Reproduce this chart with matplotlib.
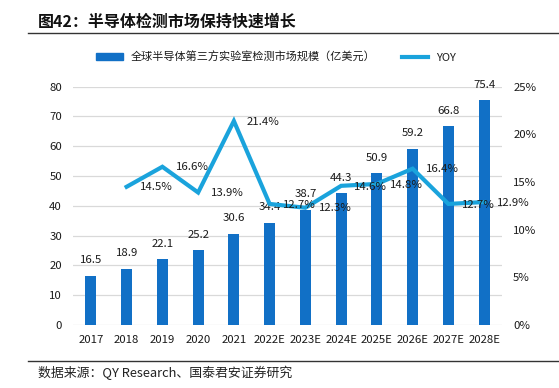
import matplotlib
matplotlib.use('Agg')
import matplotlib.pyplot as plt
import numpy as np
from matplotlib.lines import Line2D
from matplotlib.patches import Patch

plt.rcParams['font.family'] = ['Noto Sans CJK SC', 'DejaVu Sans']

years = ['2017', '2018', '2019', '2020', '2021', '2022E', '2023E', '2024E',
         '2025E', '2026E', '2027E', '2028E']
market = [16.5, 18.9, 22.1, 25.2, 30.6, 34.4, 38.7, 44.3, 50.9, 59.2, 66.8, 75.4]
yoy = [np.nan, 14.5, 16.6, 13.9, 21.4, 12.7, 12.3, 14.6, 14.8, 16.4, 12.7, 12.9]
left_ticks = [0, 10, 20, 30, 40, 50, 60, 70, 80]
right_ticks = [0, 5, 10, 15, 20, 25]

title = '图42：半导体检测市场保持快速增长'
bar_name = '全球半导体第三方实验室检测市场规模（亿美元）'
line_name = 'YOY'
source = '数据来源：QY Research、国泰君安证券研究'

bar_color = '#1170C6'
line_color = '#1AA3DC'
text_color = '#1a1a1a'

W, H = 559, 388
fig = plt.figure(figsize=(W / 100, H / 100), dpi=100)
ax = fig.add_axes([73 / W, 1 - 325 / H, 429 / W, (325 - 86.7) / H])
x = np.arange(len(years))
ax.bar(x, market, width=0.31, color=bar_color, zorder=2)
ax.set_xlim(-0.5, len(years) - 0.5)
ax.set_ylim(0, 80)
ax.set_yticks(left_ticks)
ax.set_xticks(x)
ax.set_xticklabels(years)
ax.grid(axis='y', color='#D9D9D9', lw=0.9, zorder=0)
ax.set_axisbelow(True)
for s in ax.spines.values():
    s.set_visible(False)
ax.tick_params(axis='both', length=0, labelsize=8.2, colors=text_color)
ax.tick_params(axis='y', pad=8)
ax.tick_params(axis='x', pad=7)

for xi, v in zip(x, market):
    ax.annotate(f'{v:.1f}', (xi, v), xytext=(0, 7.5), textcoords='offset points',
                ha='center', va='bottom', fontsize=8.2, color=text_color)

ax2 = ax.twinx()
ax2.plot(x, yoy, color=line_color, lw=3, zorder=3, solid_joinstyle='miter')
ax2.set_ylim(0, 25)
ax2.set_yticks(right_ticks)
ax2.set_yticklabels([f'{t}%' for t in right_ticks])
for s in ax2.spines.values():
    s.set_visible(False)
ax2.tick_params(axis='y', length=0, labelsize=8.2, colors=text_color, pad=8)

for xi, v in zip(x, yoy):
    if np.isnan(v):
        continue
    ax2.annotate(f'{v:.1f}%', (xi, v), xytext=(9.5, -0.5), textcoords='offset points',
                 ha='left', va='center', fontsize=8.2, color=text_color)

handles = [Patch(color=bar_color), Line2D([0], [0], color=line_color, lw=3)]
fig.legend(handles, [bar_name, line_name], loc='center', ncol=2,
           bbox_to_anchor=(276 / W, 1 - 57 / H), frameon=False, fontsize=8,
           handlelength=2.4, handleheight=0.5, handletextpad=0.7,
           columnspacing=2.4, labelcolor=text_color)

fig.text(38 / W, 1 - 22 / H, title, fontsize=11.5, fontweight='bold',
         va='center', ha='left', color='#111111')
fig.add_artist(Line2D([28 / W, 1], [1 - 33 / H] * 2, color='#333333', lw=1))
fig.add_artist(Line2D([28 / W, 1], [1 - 360.5 / H] * 2, color='#333333', lw=1))
fig.text(38 / W, 1 - 373 / H, source, fontsize=9.3, va='center', ha='left',
         color='#222222')

fig.savefig('out.png', dpi=100)
